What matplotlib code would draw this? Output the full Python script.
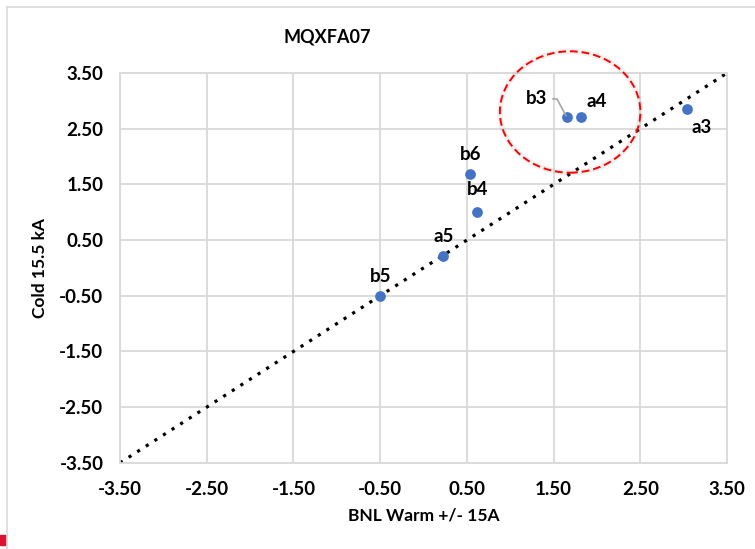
import matplotlib.pyplot as plt
from matplotlib.patches import Ellipse
from matplotlib.lines import Line2D

plt.rcParams["font.family"] = ["Lato", "DejaVu Sans"]
plt.rcParams["font.weight"] = "bold"

# harmonic labels with warm (BNL) and cold (15.5 kA) values
labels = ["b5", "a5", "b4", "b6", "b3", "a4", "a3"]
warm = [-0.50, 0.23, 0.62, 0.54, 1.65, 1.81, 3.04]
cold = [-0.50, 0.21, 1.00, 1.69, 2.71, 2.71, 2.85]
ticks = [-3.5, -2.5, -1.5, -0.5, 0.5, 1.5, 2.5, 3.5]

# label offsets in points (dx, dy, ha, va)
offsets = {
    "b5": (0, 8, "center", "bottom"),
    "a5": (0, 8, "center", "bottom"),
    "b4": (0, 10, "center", "bottom"),
    "b6": (0, 8, "center", "bottom"),
    "a4": (4, 5, "left", "bottom"),
    "a3": (3, -7, "left", "top"),
}

fig = plt.figure(figsize=(7.55, 5.49), dpi=100)
ax = fig.add_axes([0.159, 0.157, 0.804, 0.710])

ax.set_xlim(-3.5, 3.5)
ax.set_ylim(-3.5, 3.5)
ax.set_xticks(ticks)
ax.set_yticks(ticks)
ax.set_xticklabels([f"{t:.2f}" for t in ticks])
ax.set_yticklabels([f"{t:.2f}" for t in ticks])
ax.tick_params(length=0, labelsize=13.5)
ax.tick_params(axis="x", pad=13)
ax.tick_params(axis="y", pad=12)
for lab in ax.get_xticklabels() + ax.get_yticklabels():
    lab.set_fontweight("bold")
ax.grid(True, color="#d9d9d9", linewidth=1.3)
ax.set_axisbelow(True)
for sp in ax.spines.values():
    sp.set_color("#d9d9d9")
    sp.set_linewidth(1.3)

# 1:1 reference line
ax.plot([-3.5, 3.5], [-3.5, 3.5], color="black", linestyle=(0, (1, 2.2)),
        linewidth=2.3, zorder=2)

ax.scatter(warm, cold, s=45, color="#4472c4", zorder=3)

for name, x, y in zip(labels, warm, cold):
    if name == "b3":
        ax.annotate(name, xy=(x, y), xytext=(-14, 13), textcoords="offset points",
                    ha="right", va="center", fontsize=13.5, fontweight="bold",
                    arrowprops=dict(arrowstyle="-", color="#a6a6a6", lw=1.2,
                                    connectionstyle="angle,angleA=0,angleB=118,rad=0",
                                    shrinkA=2, shrinkB=1))
        continue
    dx, dy, ha, va = offsets[name]
    ax.annotate(name, xy=(x, y), xytext=(dx, dy), textcoords="offset points",
                ha=ha, va=va, fontsize=13.5, fontweight="bold")

# highlight circle around b3 / a4
ax.add_patch(Ellipse((1.69, 2.80), 1.62, 2.18, fill=False, edgecolor="#9e9e9e",
                     linewidth=4, alpha=0.15, clip_on=False, zorder=4))
ax.add_patch(Ellipse((1.69, 2.80), 1.62, 2.18, fill=False, edgecolor="#ff0000",
                     linewidth=1.4, linestyle=(0, (4, 2)), clip_on=False, zorder=5))

fig.text(0.434, 0.933, "MQXFA07", fontsize=13, fontweight="bold",
         ha="center", va="center")
ax.set_xlabel("BNL Warm +/- 15A", fontsize=12.5, fontweight="bold", labelpad=7)
ax.set_ylabel("Cold 15.5 kA", fontsize=12.5, fontweight="bold", labelpad=8)

# chart frame edges and corner marker
fig.add_artist(Line2D([0.0093, 0.0093], [0, 0.987], color="#d9d9d9", lw=1.2))
fig.add_artist(Line2D([0.0093, 1], [0.987, 0.987], color="#d9d9d9", lw=1.2))
fig.add_artist(plt.Rectangle((0, 0.007), 0.008, 0.018, color="#e0102f"))

fig.savefig("out.png", dpi=100)
